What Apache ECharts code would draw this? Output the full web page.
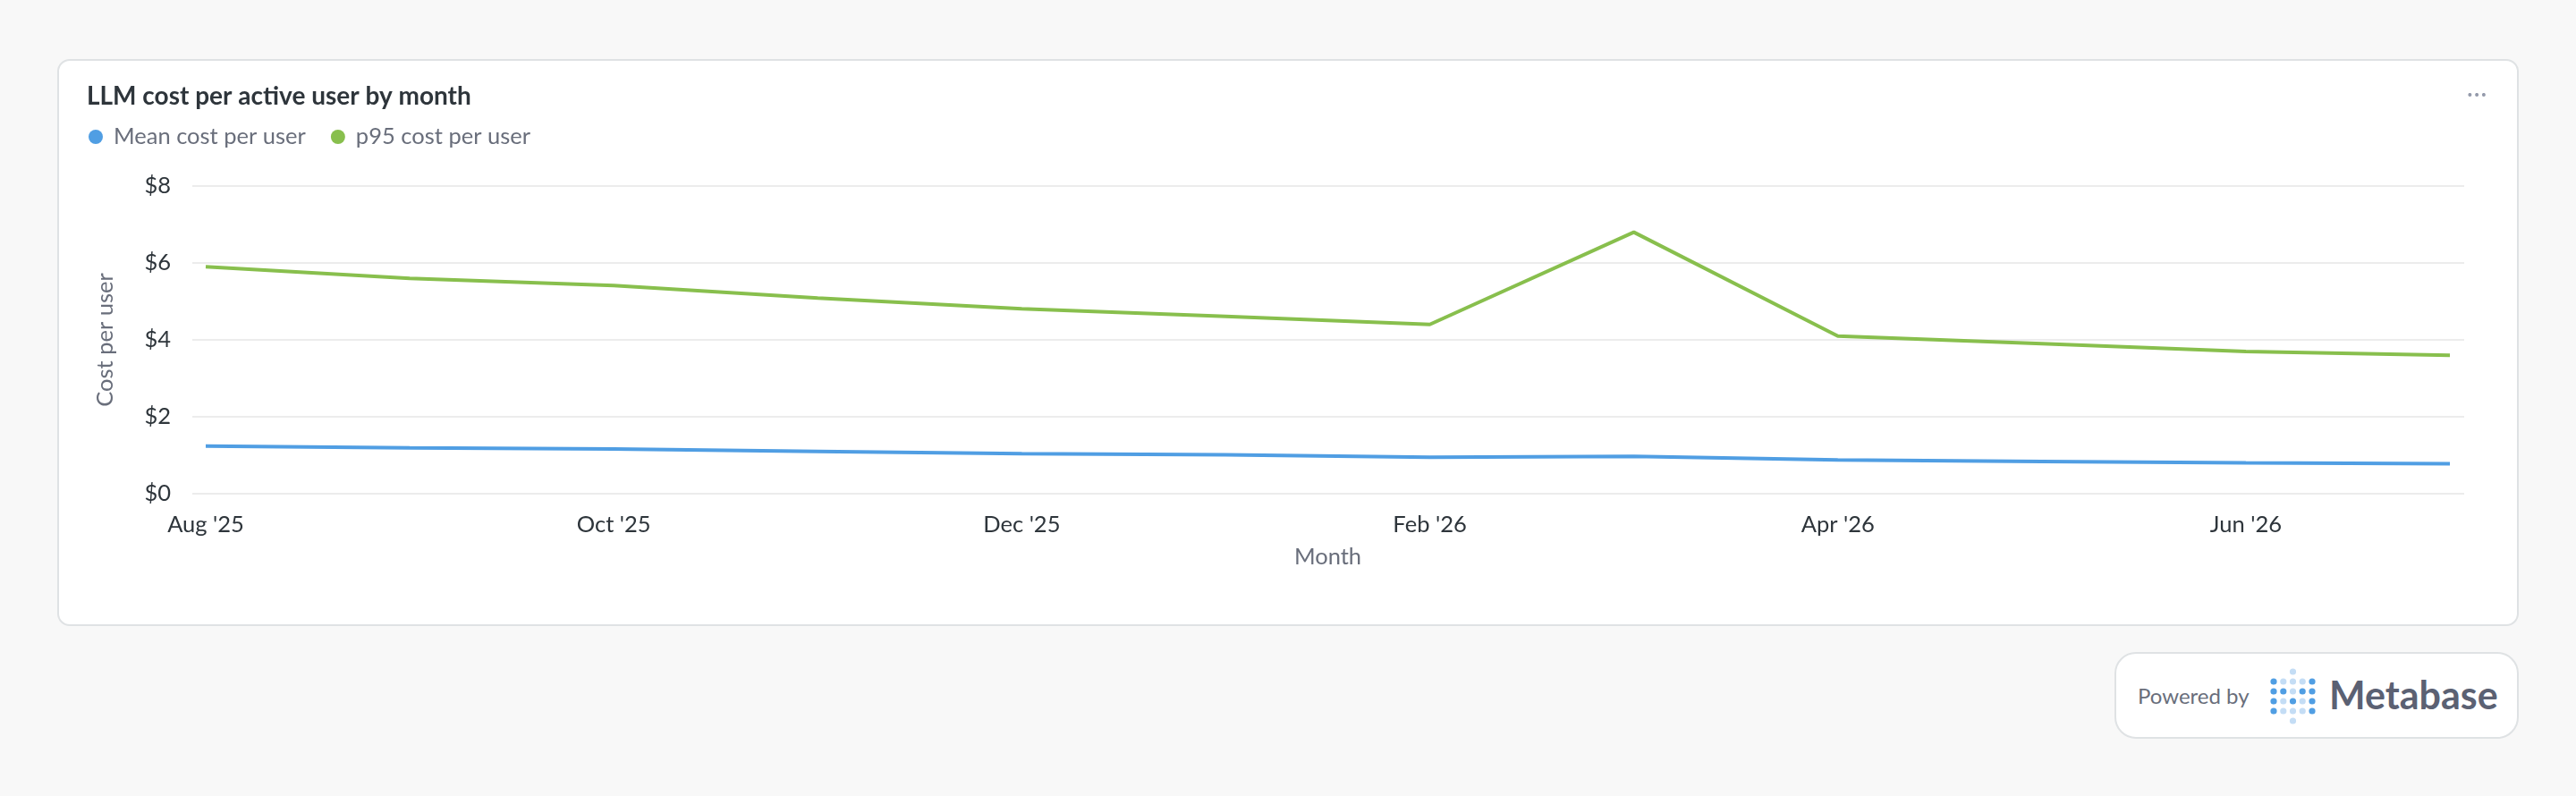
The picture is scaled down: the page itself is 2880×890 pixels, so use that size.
<!DOCTYPE html>
<html>
<head>
    <meta charset="utf-8">
    <title>LLM cost per active user by month</title>
    <style>
        html, body { margin: 0; padding: 0; width: 2880px; height: 890px; background: #f8f8f8; font-family: Lato, sans-serif; }
        .card { position: absolute; left: 64px; top: 66px; width: 2752px; height: 634px; box-sizing: border-box;
                background: #fff; border: 2px solid #dfe2e4; border-radius: 14px; }
        #container { position: absolute; left: 64px; top: 66px; width: 2752px; height: 634px; }
        .more { position: absolute; left: 2758px; top: 88px; font-size: 26px; color: #949aab; letter-spacing: 1px; }
        .badge { position: absolute; left: 2364px; top: 729px; width: 452px; height: 97px; box-sizing: border-box;
                 background: #fff; border: 2px solid #dfe2e4; border-radius: 24px; }
        .badge .pw { position: absolute; left: 24px; top: 32px; font-size: 24px; color: #696e7b; }
        .badge svg { position: absolute; left: 170px; top: 15px; }
        .badge .mb { position: absolute; left: 238px; top: 20px; font-size: 43px; font-weight: bold; color: #5b6173; }
    </style>
</head>
<body>
<div class="card"></div>
<div id="container"></div>
<div class="more">&middot;&middot;&middot;</div>
<div class="badge">
    <span class="pw">Powered by</span>
    <svg width="56" height="66" viewBox="0 0 56 66">
        <g fill="#509ee3">
            <circle cx="6" cy="16" r="3.6"/><circle cx="49" cy="16" r="3.6"/>
            <circle cx="6" cy="27" r="3.6"/><circle cx="16.8" cy="27" r="3.6"/><circle cx="38.2" cy="27" r="3.6"/><circle cx="49" cy="27" r="3.6"/>
            <circle cx="6" cy="38" r="3.6"/><circle cx="27.5" cy="38" r="3.6"/><circle cx="49" cy="38" r="3.6"/>
            <circle cx="6" cy="49" r="3.6"/><circle cx="49" cy="49" r="3.6"/>
        </g>
        <g fill="#c4ddf5">
            <circle cx="27.5" cy="5" r="3.6"/>
            <circle cx="16.8" cy="16" r="3.6"/><circle cx="27.5" cy="16" r="3.6"/><circle cx="38.2" cy="16" r="3.6"/>
            <circle cx="27.5" cy="27" r="3.6"/>
            <circle cx="16.8" cy="38" r="3.6"/><circle cx="38.2" cy="38" r="3.6"/>
            <circle cx="16.8" cy="49" r="3.6"/><circle cx="27.5" cy="49" r="3.6"/><circle cx="38.2" cy="49" r="3.6"/>
            <circle cx="27.5" cy="60" r="3.6"/>
        </g>
    </svg>
    <span class="mb">Metabase</span>
</div>

<script src="https://cdn.jsdelivr.net/npm/echarts@6.0.0/dist/echarts.min.js" type="text/javascript"></script>

<script type="text/javascript">

    // monthly data, Aug '25 .. Jul '26
    var months = ["Aug '25", "Sep '25", "Oct '25", "Nov '25", "Dec '25", "Jan '26",
                  "Feb '26", "Mar '26", "Apr '26", "May '26", "Jun '26", "Jul '26"];
    var meanCost = [1.24, 1.19, 1.16, 1.10, 1.04, 1.01, 0.95, 0.97, 0.88, 0.84, 0.80, 0.78];
    var p95Cost = [5.90, 5.60, 5.41, 5.09, 4.81, 4.61, 4.40, 6.80, 4.10, 3.90, 3.70, 3.60];
    var seriesNames = ['Mean cost per user', 'p95 cost per user'];

    var dom = document.getElementById("container");
    var myChart = echarts.init(dom);

    var darkText = '#2e353b';
    var grayText = '#696e7b';
    var fs = 25.5;

    var option = {
        animation: false,
        textStyle: { fontFamily: 'Lato' },
        color: ['#509ee3', '#88bf4d'],
        title: {
            text: 'LLM cost per active user by month',
            left: 33,
            top: 28,
            padding: 0,
            textStyle: { fontSize: 28, fontWeight: 'bold', color: darkText, fontFamily: 'Lato' }
        },
        legend: {
            left: 35,
            top: 74,
            padding: 0,
            icon: 'circle',
            itemWidth: 16,
            itemHeight: 16,
            itemGap: 28,
            data: seriesNames,
            textStyle: { fontSize: fs, color: grayText, fontFamily: 'Lato', padding: [0, 0, 0, 7] }
        },
        // grid 0 carries the y axis + split lines (a bit wider), grid 1 carries the lines
        grid: [
            { left: 151, right: 61, top: 142, bottom: 148 },
            { left: 166, right: 77, top: 142, bottom: 148 }
        ],
        xAxis: [
            { gridIndex: 0, type: 'value', min: 0, max: 1, show: false },
            {
                gridIndex: 1,
                type: 'category',
                boundaryGap: false,
                data: months,
                name: 'Month',
                nameLocation: 'middle',
                nameGap: 58,
                nameTextStyle: { fontSize: fs, color: grayText, fontFamily: 'Lato' },
                axisLine: { show: false },
                axisTick: { show: false },
                axisLabel: { interval: 1, margin: 22, fontSize: fs, color: darkText, fontFamily: 'Lato' },
                splitLine: { show: false }
            }
        ],
        yAxis: [
            {
                gridIndex: 0,
                type: 'value',
                min: 0,
                max: 8,
                interval: 2,
                name: 'Cost per user',
                nameLocation: 'middle',
                nameGap: 84,
                nameTextStyle: { fontSize: fs, color: grayText, fontFamily: 'Lato' },
                axisLine: { show: false },
                axisTick: { show: false },
                axisLabel: {
                    margin: 24, fontSize: fs, color: darkText, fontFamily: 'Lato',
                    formatter: function (v) { return '$' + v; }
                },
                splitLine: { lineStyle: { color: '#ececec', width: 2 } }
            },
            { gridIndex: 1, type: 'value', min: 0, max: 8, show: false, splitLine: { show: false } }
        ],
        series: [
            {
                name: seriesNames[0],
                type: 'line',
                xAxisIndex: 1,
                yAxisIndex: 1,
                data: meanCost,
                showSymbol: false,
                symbol: 'circle',
                lineStyle: { width: 4 }
            },
            {
                name: seriesNames[1],
                type: 'line',
                xAxisIndex: 1,
                yAxisIndex: 1,
                data: p95Cost,
                showSymbol: false,
                symbol: 'circle',
                lineStyle: { width: 4 }
            }
        ]
    };

    if (option && typeof option === "object") {
        myChart.setOption(option, true);
    }
</script>
</body>
</html>
